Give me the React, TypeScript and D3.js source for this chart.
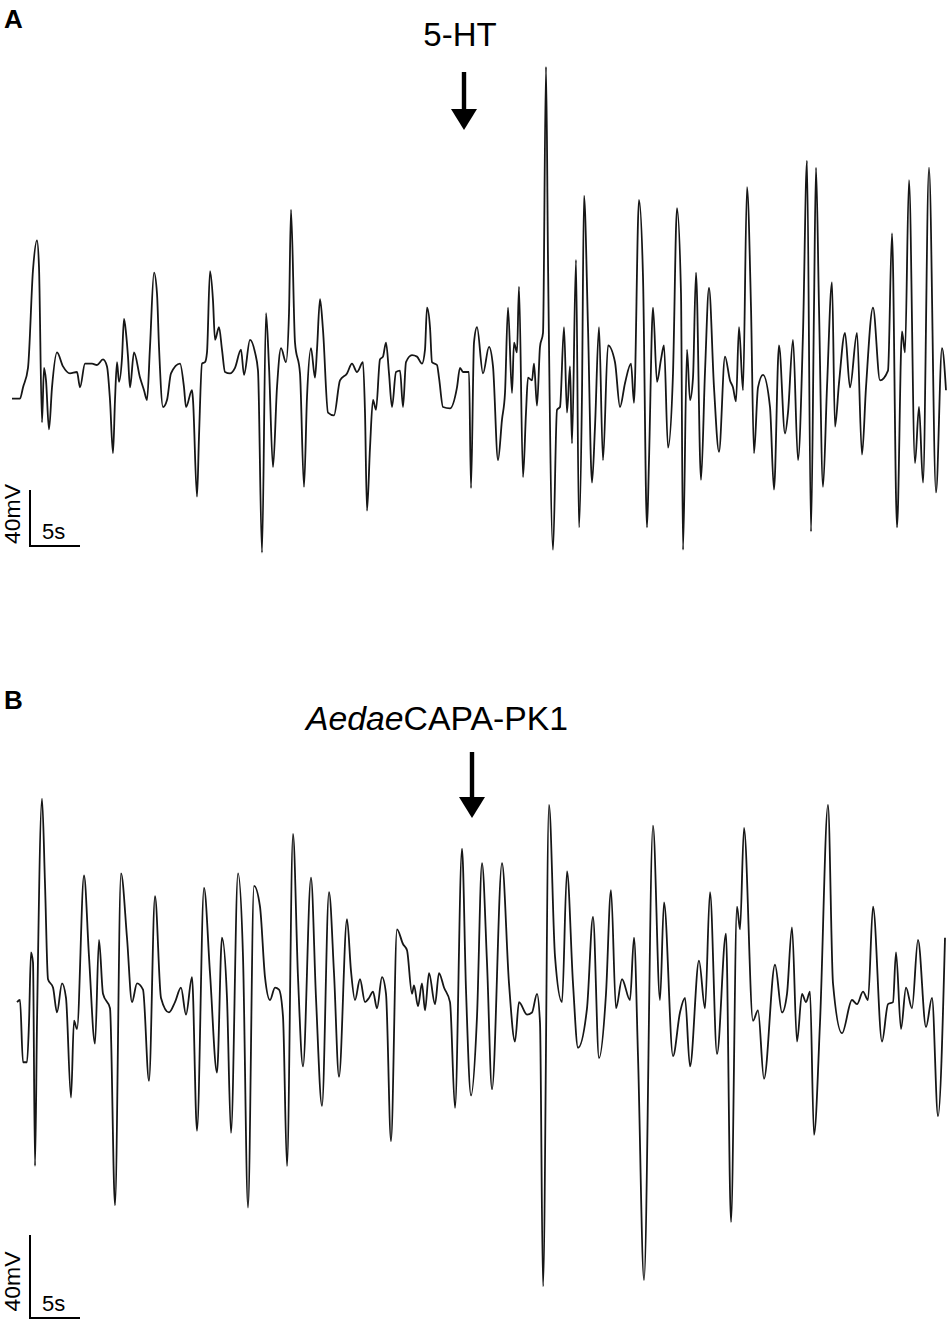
import React from 'react';
import * as d3 from 'd3';

// panel A: time (s) and voltage (mV)
const timeA = [0, 0.8, 1.1, 1.6, 2.1, 2.5, 2.7, 3.0, 3.2, 3.4, 3.7, 4.0, 4.5, 5.1, 5.8, 6.5, 6.8, 7.3, 8.0, 8.5,
  9.1, 9.5, 9.8, 10.1, 10.3, 10.5, 10.7, 11.0, 11.2, 11.4, 11.6, 11.8, 12.2, 12.8, 13.2, 13.5, 13.8, 14.2, 14.5, 14.7,
  15.1, 15.5, 15.9, 16.8, 17.2, 17.4, 18.0, 18.1, 18.5, 18.7, 19.0, 19.3, 19.5, 19.8, 20.1, 20.3, 20.7, 21.0, 21.3, 21.8,
  22.3, 22.9, 23.2, 23.8, 24.3, 24.6, 25.0, 25.4, 25.7, 26.1, 26.5, 26.9, 27.4, 27.7, 27.9, 28.3, 28.8, 29.2, 29.5, 29.9,
  30.3, 30.5, 30.8, 31.1, 31.6, 32.2, 32.8, 33.5, 34.0, 34.5, 35.1, 35.3, 35.5, 35.8, 36.1, 36.4, 36.8, 37.1, 37.4, 37.7,
  38.0, 38.4, 38.8, 39.1, 39.4, 40.0, 40.5, 41.0, 41.3, 41.5, 41.8, 42.0, 42.5, 42.7, 43.1, 43.8, 44.5, 44.8, 45.1, 45.7,
  45.9, 46.2, 46.5, 47.1, 47.7, 48.1, 48.6, 49.0, 49.3, 49.6, 50.0, 50.2, 50.5, 50.7, 51.1, 51.4, 51.6, 52.0, 52.2, 52.5,
  52.8, 53.1, 53.4, 53.6, 54.1, 54.5, 54.8, 55.2, 55.5, 55.8, 56.0, 56.4, 56.7, 57.0, 57.2, 57.6, 58.0, 58.3, 58.7, 59.1,
  59.6, 60.3, 60.8, 61.3, 61.9, 62.2, 62.7, 63.1, 63.5, 63.7, 64.1, 64.5, 64.9, 65.2, 65.6, 66.1, 66.5, 66.9, 67.1, 67.5,
  67.8, 68.1, 68.4, 68.9, 69.3, 69.7, 70.2, 70.7, 71.3, 71.8, 72.1, 72.4, 72.7, 73.1, 73.5, 73.9, 74.2, 74.6, 75.1, 75.8,
  76.2, 76.7, 77.3, 77.6, 78.1, 78.6, 79.1, 79.5, 79.9, 80.2, 80.4, 80.7, 81.1, 81.5, 82.0, 82.3, 82.7, 83.3, 83.8, 84.5,
  85.0, 85.4, 86.1, 86.8, 87.6, 88.0, 88.5, 89.0, 89.3, 89.7, 90.3, 90.7, 91.1, 91.7, 92.4, 93.0, 93.4];
const mvA = [1, 1, 9, 23, 93, 114, 95, -16, 23, 14, -21, 9, 34, 24, 19, 20, 9, 26, 26, 25,
  29, 24, 0, -38, 0, 27, 13, 30, 58, 48, 31, 9, 34, 16, 7, 0, 38, 91, 76, 38,
  -5, 0, 19, 26, 9, -5, 7, 0, -69, -26, 26, 27, 34, 92, 71, 43, 52, 36, 20, 19,
  23, 36, 18, 43, 34, 21, -109, 62, 24, -48, 9, 37, 27, 62, 136, 41, 19, -62, 2, 37,
  16, 36, 72, 50, -9, -11, 14, 19, 26, 20, 27, -9, -79, -34, 0, -7, 29, 31, 41, 19,
  -5, 20, 21, -5, 27, 32, 31, 26, 36, 66, 52, 27, 25, 16, -5, -6, 9, 23, 20, 20,
  -63, 41, 52, 19, 38, 24, -43, -14, 5, 66, 5, 41, 34, 81, -55, -9, 16, 14, 26, -4,
  38, 48, 238, 100, -107, -7, -5, 52, -9, 24, -31, 100, -91, 5, 146, 52, -59, -19, 52, -43,
  39, 27, -5, 12, 26, -2, 143, 88, -91, -43, 66, 13, 29, 39, -34, 19, 137, 76, -107, 36,
  0, 16, 91, -57, 20, 80, 9, -37, 31, 14, 9, -1, 52, 7, 152, 66, -38, 9, 18, -5,
  -64, 39, -24, -9, 43, -43, 48, 171, -94, 66, 166, 66, -62, 9, 84, -19, 12, 48, 9, 48,
  -39, 9, 66, 14, 21, 119, -91, 49, 34, 157, -45, -5, -59, 166, -66, 37, 7];

// panel B
const timeB = [0, 0.3, 0.6, 1.0, 1.2, 1.4, 1.6, 1.8, 2.0, 2.5, 2.8, 3.1, 3.6, 4.0, 4.5, 4.9, 5.4, 5.7, 6.0, 6.7,
  7.2, 7.8, 8.2, 8.6, 9.3, 9.8, 10.4, 11.0, 11.5, 12.0, 12.6, 13.2, 13.8, 14.4, 15.2, 15.8, 16.4, 16.9, 17.5, 18.0,
  18.7, 19.3, 20.0, 20.5, 21.0, 21.4, 22.1, 22.6, 23.1, 23.7, 24.3, 24.8, 25.3, 25.8, 26.2, 26.6, 27.0, 27.6, 28.1, 28.6,
  29.4, 29.9, 30.5, 31.2, 31.7, 32.2, 33.0, 33.4, 33.8, 34.3, 34.8, 35.2, 35.6, 36.0, 36.5, 36.9, 37.4, 38.0, 38.6, 39.0,
  39.5, 39.7, 40.1, 40.5, 40.8, 41.2, 41.8, 42.2, 42.7, 43.3, 43.8, 44.5, 44.9, 45.4, 46.0, 46.5, 47.0, 47.5, 48.5, 49.2,
  49.8, 50.2, 51.0, 51.5, 52.0, 52.3, 52.6, 53.2, 53.8, 54.5, 55.0, 55.6, 56.1, 57.0, 57.6, 58.2, 58.9, 59.4, 59.9, 60.5,
  61.3, 61.7, 62.1, 62.7, 63.6, 64.3, 64.7, 65.6, 66.3, 66.8, 67.3, 68.2, 68.8, 69.3, 70.0, 70.9, 71.4, 72.0, 72.3, 72.7,
  73.6, 74.1, 74.7, 75.8, 76.5, 77.0, 77.5, 78.0, 78.5, 78.9, 79.3, 79.7, 80.3, 81.1, 81.6, 82.5, 83.5, 84.0, 84.6, 85.1,
  85.6, 86.5, 87.1, 87.6, 87.9, 88.4, 88.9, 89.5, 90.1, 90.9, 91.5, 92.1, 92.8];
const mvB = [-1, 0, -30, -30, -11, 23, 18, -80, -11, 97, 56, 10, 6, -6, 8, 1, -47, -10, -14, 60,
  21, -21, 29, 3, -4, -99, 61, 30, -1, 8, 5, -39, 50, 1, -6, -1, 6, -7, 11, -63,
  54, 13, -35, 30, 1, -64, 61, 21, -100, 55, 45, 11, 0, 6, 5, -8, -80, 80, 11, -32,
  59, 1, -51, 52, 13, -37, 39, 14, 0, 10, -1, 1, 4, -4, 11, 3, -68, 34, 27, 24,
  3, 7, -3, 8, -5, 13, -2, 13, 6, -1, -52, 73, 5, -46, -8, 66, 18, -43, 66, 8,
  -20, -1, -7, -6, 3, -11, -138, 94, 21, -1, 62, 8, -23, -4, 40, -28, 3, 53, -4, 10,
  0, 30, -27, -135, 84, 0, 47, -27, -6, 1, -32, 19, -4, 52, -26, 32, -107, 45, 34, 83,
  -10, -5, -38, 17, -6, 3, 35, -20, 3, -1, 4, -65, -11, 94, 8, -16, 0, -2, 4, 0,
  45, -20, -2, -1, 23, -14, 6, -4, 29, -13, 1, -56, 30];

// drug application times (s)
const drugA = 45.2;
const drugB = 45.5;
const labelA = '5-HT';
const labelB = 'CAPA-PK1';

const font = '"Liberation Sans", Arial, Helvetica, sans-serif';
const traceColor = '#161616';

const xA = d3.scaleLinear().domain([0, 94]).range([12, 952]);
const yA = d3.scaleLinear().domain([0, 40]).range([400, 344]);
const xB = d3.scaleLinear().domain([0, 94]).range([17, 957]);
const yB = d3.scaleLinear().domain([0, 40]).range([1000, 917]);

const tracePath = (ts: number[], vs: number[], x: any, y: any) =>
  d3.line<number>()
    .x((_, i) => x(ts[i]))
    .y((v) => y(v))
    .curve(d3.curveMonotoneX)(vs) as string;

const Arrow = ({ x, top, bottom }: { x: number; top: number; bottom: number }) => (
  <g>
    <rect x={x - 2.2} y={top} width={4.4} height={bottom - top - 20} fill="#000" />
    <path d={`M${x - 13},${bottom - 21} L${x + 13},${bottom - 21} L${x},${bottom} Z`} fill="#000" />
  </g>
);

const ScaleBar = ({ x, y, top, tag }: { x: any; y: any; top: number; tag: string }) => {
  const len = x(5) - x(0);
  const h = y(0) - y(40);
  const x0 = 30;
  const yb = top + h;
  return (
    <g>
      <path d={`M${x0},${top} L${x0},${yb} L${x0 + len},${yb}`} fill="none" stroke="#000" strokeWidth={2} />
      <text transform={`translate(20,${top + h / 2 + (tag === 'A' ? -4 : 5)}) rotate(-90)`} textAnchor="middle"
        fontFamily={font} fontSize={22} textLength={60} lengthAdjust="spacingAndGlyphs">40mV</text>
      <text x={42} y={yb - 7} fontFamily={font} fontSize={22}>5s</text>
    </g>
  );
};

export default function App() {
  return (
    <div style={{ position: 'absolute', left: 0, top: 0 }}>
      <svg width={950} height={1323} style={{ display: 'block', background: '#fff' }}>
        {/* panel A */}
        <text x={4} y={28} fontFamily={font} fontWeight="bold" fontSize={26}>A</text>
        <text x={xA(drugA) - 4} y={46} textAnchor="middle" fontFamily={font} fontSize={33}>{labelA}</text>
        <Arrow x={xA(drugA)} top={72} bottom={130} />
        <path d={tracePath(timeA, mvA, xA, yA)} fill="none" stroke={traceColor} strokeWidth={1.8} strokeLinejoin="round" />
        <ScaleBar x={xA} y={yA} top={490} tag="A" />

        {/* panel B */}
        <text x={4} y={709} fontFamily={font} fontWeight="bold" fontSize={26}>B</text>
        <text x={xB(drugB) - 35} y={730} textAnchor="middle" fontFamily={font} fontSize={33}
          textLength={262} lengthAdjust="spacingAndGlyphs">
          <tspan fontStyle="italic">Aedae</tspan>{labelB}
        </text>
        <Arrow x={xB(drugB)} top={752} bottom={818} />
        <path d={tracePath(timeB, mvB, xB, yB)} fill="none" stroke={traceColor} strokeWidth={1.8} strokeLinejoin="round" />
        <ScaleBar x={xB} y={yB} top={1235} tag="B" />
      </svg>
    </div>
  );
}
